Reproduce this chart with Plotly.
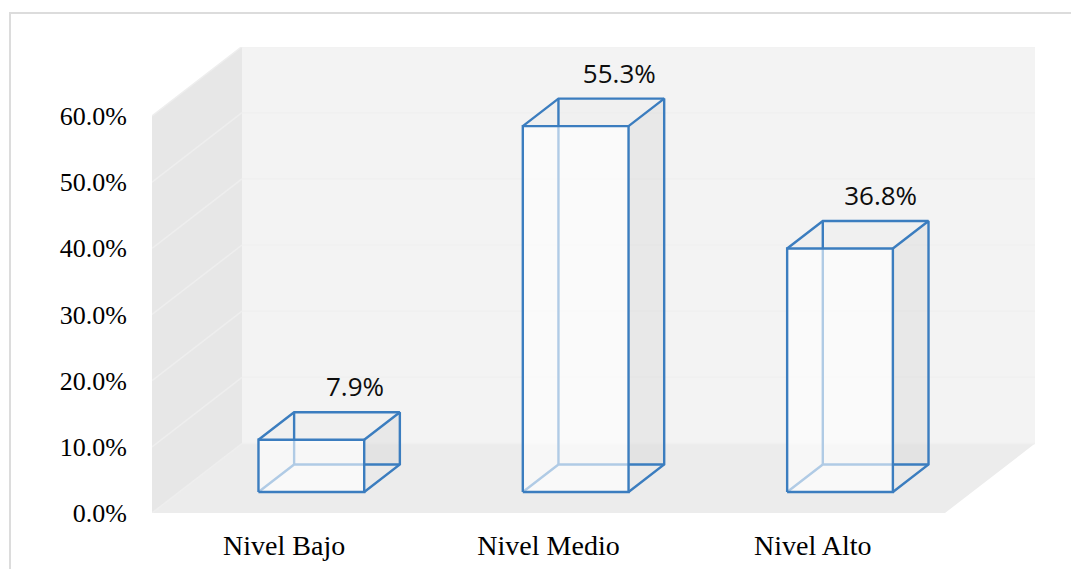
import plotly.graph_objects as go

categories = ["Nivel Bajo", "Nivel Medio", "Nivel Alto"]
values = [7.9, 55.3, 36.8]
value_ticks = [0, 10, 20, 30, 40, 50, 60]
tick_labels = ["0.0%", "10.0%", "20.0%", "30.0%", "40.0%", "50.0%", "60.0%"]

# oblique projection of the 3D frame (x in category units, y in percent)
W, H = 1071, 569
L, R, T, B = 152, 1035, 47, 513
CAT_PX = 793 / 3
PCT_PX = 397 / 60
DEPTH_X = 90 / CAT_PX
DEPTH_Y = 69.5 / PCT_PX
X_MAX = (R - L) / CAT_PX
Y_MAX = (B - T) / PCT_PX
BAR_W = 0.4
D0, D1 = 0.302, 0.698
EDGE = "#3b7dbf"


def p(x, v, d):
    return x + d * DEPTH_X, v + d * DEPTH_Y


def poly(pts, fill=None, line=None, width=2.4):
    xs = [q[0] for q in pts]
    ys = [q[1] for q in pts]
    return go.Scatter(
        x=xs, y=ys, mode="lines", hoverinfo="skip", showlegend=False,
        fill="toself" if fill else None, fillcolor=fill,
        line=dict(color=line or "rgba(0,0,0,0)", width=width if line else 0),
    )


fig = go.Figure()
n = len(categories)
top = value_ticks[-1]

# walls and floor
fig.add_trace(poly([p(0, 0, 1), p(n, 0, 1), p(n, top, 1), p(0, top, 1), p(0, 0, 1)], fill="#f3f3f3"))
fig.add_trace(poly([p(0, 0, 0), p(0, 0, 1), p(0, top, 1), p(0, top, 0), p(0, 0, 0)], fill="#e7e7e7"))
fig.add_trace(poly([p(0, 0, 0), p(n, 0, 0), p(n, 0, 1), p(0, 0, 1), p(0, 0, 0)], fill="#ececec"))

# gridlines
for v in value_ticks:
    fig.add_trace(poly([p(0, v, 0), p(0, v, 1)], line="#eeeeee", width=1.5))
    fig.add_trace(poly([p(0, v, 1), p(n, v, 1)], line="#f0f0f0", width=1.5))

# bars
for i, v in enumerate(values):
    x0 = i + 0.5 - BAR_W / 2
    x1 = x0 + BAR_W
    flb, frb = p(x0, 0, D0), p(x1, 0, D0)
    flt, frt = p(x0, v, D0), p(x1, v, D0)
    blb, brb = p(x0, 0, D1), p(x1, 0, D1)
    blt, brt = p(x0, v, D1), p(x1, v, D1)
    # side, top and bottom fills
    fig.add_trace(poly([frb, brb, brt, frt, frb], fill="rgba(215,215,215,0.4)"))
    fig.add_trace(poly([flt, frt, brt, blt, flt], fill="rgba(235,235,235,0.3)"))
    fig.add_trace(poly([flb, frb, brb, blb, flb], fill="rgba(255,255,255,0.25)"))
    # back edges
    fig.add_trace(poly([flb, blb, brb], line=EDGE))
    fig.add_trace(poly([blb, blt], line=EDGE))
    # translucent front face softens what lies behind it
    fig.add_trace(poly([flb, frb, frt, flt, flb], fill="rgba(255,255,255,0.6)"))
    # visible edges
    fig.add_trace(poly([flb, frb, frt, flt, flb], line=EDGE))
    fig.add_trace(poly([frb, brb, brt, frt], line=EDGE))
    fig.add_trace(poly([flt, blt, brt], line=EDGE))

# data labels
LABEL_DX = [8 / CAT_PX, 8 / CAT_PX, 5 / CAT_PX]
for i, v in enumerate(values):
    lx, ly = p(i + 0.5, v, D1)
    fig.add_trace(go.Scatter(
        x=[lx + LABEL_DX[i]], y=[ly + 22.5 / PCT_PX], mode="text",
        text=[f"{v:.1f}%"], textposition="middle center",
        textfont=dict(family="Open Sans", size=26, color="#0d0d0d"),
        hoverinfo="skip", showlegend=False,
    ))

fig.update_layout(
    width=W, height=H, autosize=False,
    margin=dict(l=L, r=W - R, t=T, b=H - B),
    paper_bgcolor="white", plot_bgcolor="white", showlegend=False,
    font=dict(family="Liberation Serif", color="#000000"),
    xaxis=dict(
        range=[0, X_MAX], showgrid=False, zeroline=False, showline=False, automargin=False,
        tickmode="array", tickvals=[i + 0.5 for i in range(n)], ticktext=categories,
        tickfont=dict(family="Liberation Serif", size=28, color="#000000"),
        ticks="outside", ticklen=7, tickcolor="rgba(0,0,0,0)",
    ),
    yaxis=dict(
        range=[0, Y_MAX], showgrid=False, zeroline=False, showline=False, automargin=False,
        tickmode="array", tickvals=value_ticks, ticktext=tick_labels,
        tickfont=dict(family="Liberation Serif", size=26, color="#000000"),
        ticks="outside", ticklen=19, tickcolor="rgba(0,0,0,0)",
    ),
    shapes=[dict(
        type="path", xref="paper", yref="paper", layer="below",
        path=f"M {(10 - L) / (R - L)} {(B - H) / (B - T)} "
             f"L {(10 - L) / (R - L)} {(B - 13) / (B - T)} "
             f"L {(W - L) / (R - L)} {(B - 13) / (B - T)}",
        line=dict(color="#dcdcdc", width=2),
    )],
)

fig.write_html(
    "out.html",
    config={"displayModeBar": False},
    post_script="document.body.style.margin='0';document.body.style.overflow='hidden';",
)
